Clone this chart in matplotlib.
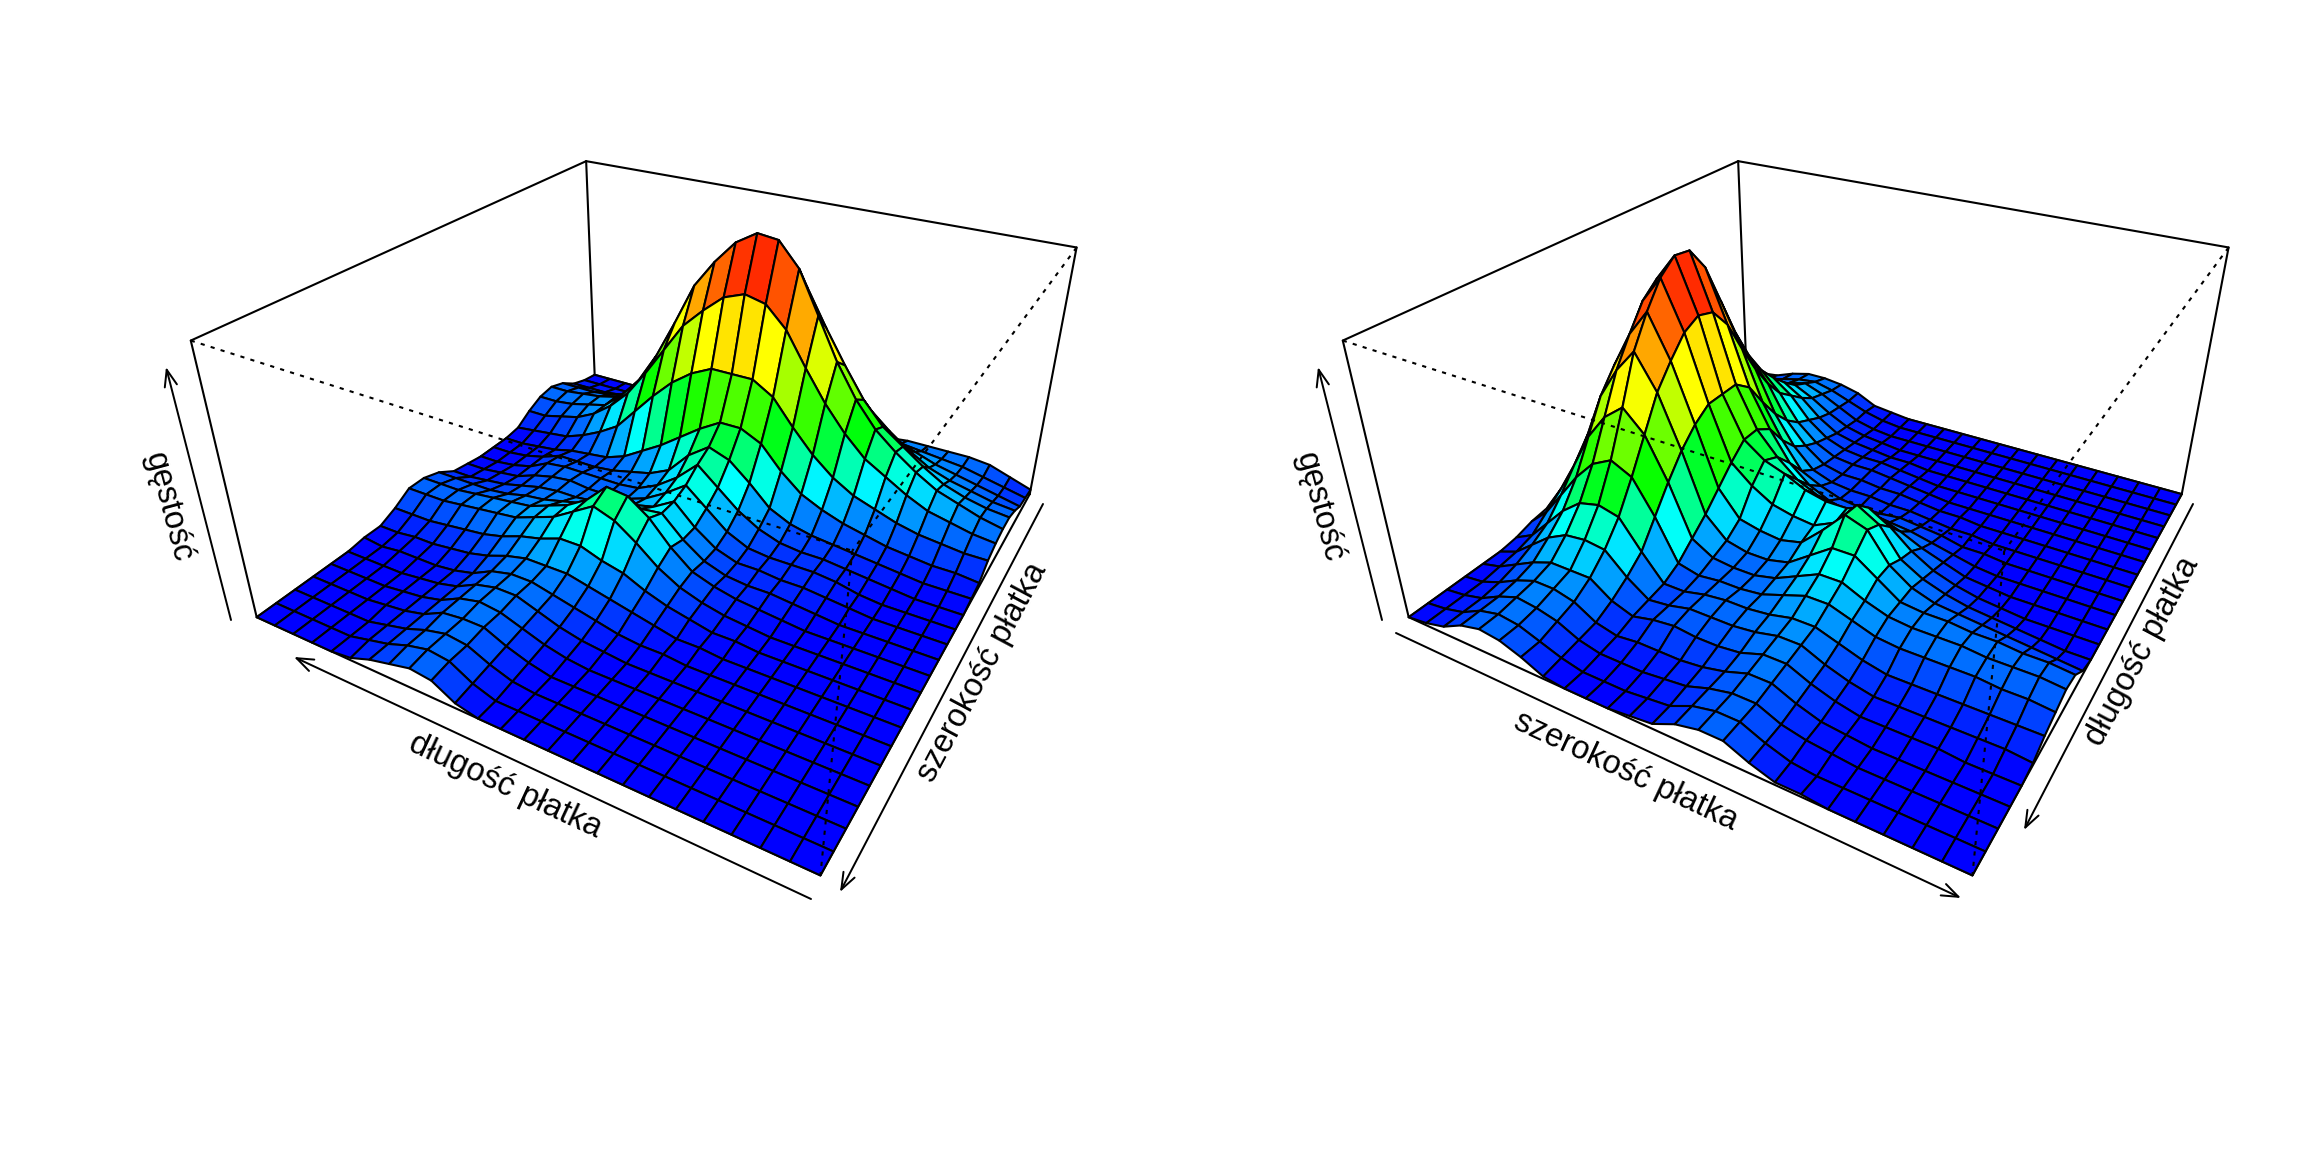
import numpy as np
import matplotlib
matplotlib.use("Agg")
import matplotlib.pyplot as plt
from matplotlib.collections import PolyCollection
from matplotlib.colors import LinearSegmentedColormap

plt.rcParams["font.family"] = ["Liberation Sans", "DejaVu Sans"]

# gestosc, % maksimum; wiersze: dlugosc platka, kolumny: szerokosc platka
dl00 = [2,3,4,7,9,9,8,6,2,1,0,0,0,0,0,0,0,0,0,0,0,0,0,0,0]
dl01 = [5,5,6,8,10,11,9,6,3,1,0,0,0,0,0,0,0,0,0,0,0,0,0,0,0]
dl02 = [8,7,8,10,12,14,11,7,3,1,0,0,0,0,0,0,0,0,0,0,0,0,0,0,0]
dl03 = [9,9,10,12,15,17,13,8,4,2,1,0,0,0,0,0,0,0,0,0,0,0,0,0,0]
dl04 = [9,10,12,15,20,22,17,10,5,3,2,1,1,0,0,0,0,0,0,0,0,0,0,0,0]
dl05 = [9,11,15,20,26,28,22,13,7,4,3,3,2,1,0,0,0,0,0,0,0,0,0,0,0]
dl06 = [9,12,18,26,32,35,27,16,9,5,4,4,3,2,1,0,0,0,0,0,0,0,0,0,0]
dl07 = [8,14,23,33,41,45,35,21,12,6,4,4,3,3,2,1,1,0,0,0,0,0,0,0,0]
dl08 = [8,17,29,42,53,58,45,28,16,8,5,4,4,3,3,2,1,1,0,0,0,0,0,0,0]
dl09 = [9,21,37,53,66,74,57,37,23,12,8,5,4,4,5,4,3,1,1,0,0,0,0,0,0]
dl10 = [10,25,45,64,80,90,70,47,32,20,13,9,7,7,8,7,5,3,1,0,0,0,0,0,0]
dl11 = [10,28,50,71,89,99,78,52,36,27,20,16,13,13,15,12,8,5,2,1,0,0,0,0,0]
dl12 = [8,28,50,72,90,100,80,52,36,30,27,23,21,21,24,19,12,7,4,2,1,0,0,0,0]
dl13 = [6,24,47,68,85,95,77,52,31,24,19,17,16,20,30,25,14,9,6,4,3,2,1,0,0]
dl14 = [5,21,42,62,76,86,70,48,25,15,13,12,14,22,31,28,17,11,8,7,6,5,4,3,2]
dl15 = [5,19,36,54,66,75,62,42,19,11,9,9,11,17,23,23,17,11,10,10,9,9,8,8,7]
dl16 = [4,15,28,42,52,58,50,34,14,9,8,8,10,14,18,18,14,11,10,10,10,9,9,9,8]
dl17 = [3,10,20,30,38,42,38,25,9,7,8,8,9,12,15,15,12,9,8,8,8,8,7,7,6]
dl18 = [1,5,13,21,27,29,27,16,6,6,8,9,9,10,12,12,9,6,4,4,4,4,4,4,4]
dl19 = [0,3,9,15,19,20,19,11,5,6,8,8,8,9,11,11,7,4,2,2,2,2,2,2,1]
dl20 = [0,2,6,10,13,13,13,7,4,6,7,6,6,7,10,10,6,3,1,1,1,1,0,0,0]
dl21 = [0,1,4,8,11,11,9,4,2,3,3,3,4,6,9,9,5,2,1,0,0,0,0,0,0]
dl22 = [0,1,3,7,10,9,7,3,1,1,1,2,3,6,8,8,4,2,1,0,0,0,0,0,0]
dl23 = [0,1,3,7,9,8,5,2,0,0,0,1,2,6,8,8,4,1,0,0,0,0,0,0,0]
dl24 = [0,1,3,7,9,8,5,1,0,0,0,1,2,6,8,8,4,1,1,0,0,0,0,0,0]

gestosc = np.array([dl00,dl01,dl02,dl03,dl04,dl05,dl06,dl07,dl08,dl09,dl10,dl11,dl12,
                    dl13,dl14,dl15,dl16,dl17,dl18,dl19,dl20,dl21,dl22,dl23,dl24]) / 100.0

THETA = np.radians(30)
PHI = np.radians(30)
EYE = np.sqrt(3) + 2      # r + 2d jak w persp()
EXPAND = 0.5
SCALE = 300


def project(x, y, h, x0, y0):
    # x, y w [-1, 1], h w [0, 1]; wynik w pikselach rysunku
    z = (h - 0.5) * 2 * EXPAND
    sx = x * np.cos(THETA) + y * np.sin(THETA)
    dy = -x * np.sin(THETA) + y * np.cos(THETA)
    sy = dy * np.sin(PHI) + z * np.cos(PHI)
    wz = -dy * np.cos(PHI) + z * np.sin(PHI)
    s = EYE / (EYE - wz)
    return x0 + SCALE * s * sx, y0 - SCALE * s * sy


cmap = LinearSegmentedColormap.from_list("tecza", [(0, "#0000ff"), (0.2, "#00ffff"), (0.36, "#00ff00"),
                                                   (0.62, "#ffff00"), (0.95, "#ff0000"), (1, "#ff0000")])

fig = plt.figure(figsize=(23.04, 11.52), dpi=100)
ax = fig.add_axes([0, 0, 1, 1])
ax.set_xlim(0, 2304)
ax.set_ylim(1152, 0)
ax.axis("off")

LW = 1.5


def panel(h, x0, y0):
    n = h.shape[0]
    xs = np.linspace(-1, 1, n)
    ys = np.linspace(1, -1, n)

    def box_line(p, q, **kw):
        px, py = project(np.array([p[0], q[0]]), np.array([p[1], q[1]]), np.array([p[2], q[2]]), x0, y0)
        ax.plot(px, py, color="black", lw=LW, solid_capstyle="round", **kw)

    # tylne krawedzie pudelka
    for p, q in [((-1, -1, 0), (1, -1, 0)), ((1, -1, 0), (1, 1, 0)), ((1, 1, 0), (-1, 1, 0)), ((-1, 1, 0), (-1, -1, 0)),
                 ((-1, -1, 0), (-1, -1, 1)), ((1, 1, 0), (1, 1, 1)), ((-1, 1, 0), (-1, 1, 1)),
                 ((-1, -1, 1), (-1, 1, 1)), ((-1, 1, 1), (1, 1, 1))]:
        box_line(p, q, zorder=1)

    polys = []
    vals = []
    for b in range(n - 1):
        for a in range(n - 1):
            cx = [xs[a], xs[a + 1], xs[a + 1], xs[a]]
            cy = [ys[b], ys[b], ys[b + 1], ys[b + 1]]
            ch = [h[b, a], h[b, a + 1], h[b + 1, a + 1], h[b + 1, a]]
            px, py = project(np.array(cx), np.array(cy), np.array(ch), x0, y0)
            polys.append(np.column_stack([px, py]))
            vals.append(np.mean(ch))
    pc = PolyCollection(polys, facecolors=cmap(np.array(vals)), edgecolors="black", linewidths=LW, zorder=2,
                        joinstyle="round")
    ax.add_collection(pc)

    # przednie krawedzie kropkowane
    for p, q in [((-1, -1, 1), (1, -1, 1)), ((1, 1, 1), (1, -1, 1)), ((1, -1, 1), (1, -1, 0))]:
        px, py = project(np.array([p[0], q[0]]), np.array([p[1], q[1]]), np.array([p[2], q[2]]), x0, y0)
        ax.plot(px, py, color="black", lw=LW, ls=(0, (2, 3)), dash_capstyle="butt", zorder=3)


def arrow(tail, tip):
    ax.annotate("", xy=tip, xytext=tail, xycoords="data", textcoords="data", zorder=4,
                arrowprops=dict(arrowstyle="->,head_length=1.2,head_width=0.45", lw=LW * 0.95, color="black",
                                mutation_scale=10, shrinkA=0, shrinkB=0))


def label(s, xy, rot):
    ax.text(xy[0], xy[1], s, rotation=rot, rotation_mode="anchor", ha="center", va="center", fontsize=23.5,
            color="black", zorder=5)


# lewy panel: kolumny = dlugosc malejaco, wiersze = szerokosc
lewy = gestosc[::-1, :].T
# prawy panel: kolumny = szerokosc, wiersze = dlugosc
prawy = gestosc

panel(lewy, 674, 429)
arrow((811, 899), (294, 657))
arrow((1043, 504), (840, 892))
arrow((231, 620), (166, 367))
label("długość płatka", (505, 786), -25)
label("szerokość płatka", (982, 672), 62)
label("gęstość", (168, 507), -75)

panel(prawy, 1826, 429)
arrow((1396, 633), (1961, 898))
arrow((2193, 504), (2024, 830))
arrow((1382, 620), (1318, 367))
label("szerokość płatka", (1626, 771), -25)
label("długość płatka", (2142, 652), 62)
label("gęstość", (1319, 507), -75)

fig.savefig("out.png", dpi=100)
